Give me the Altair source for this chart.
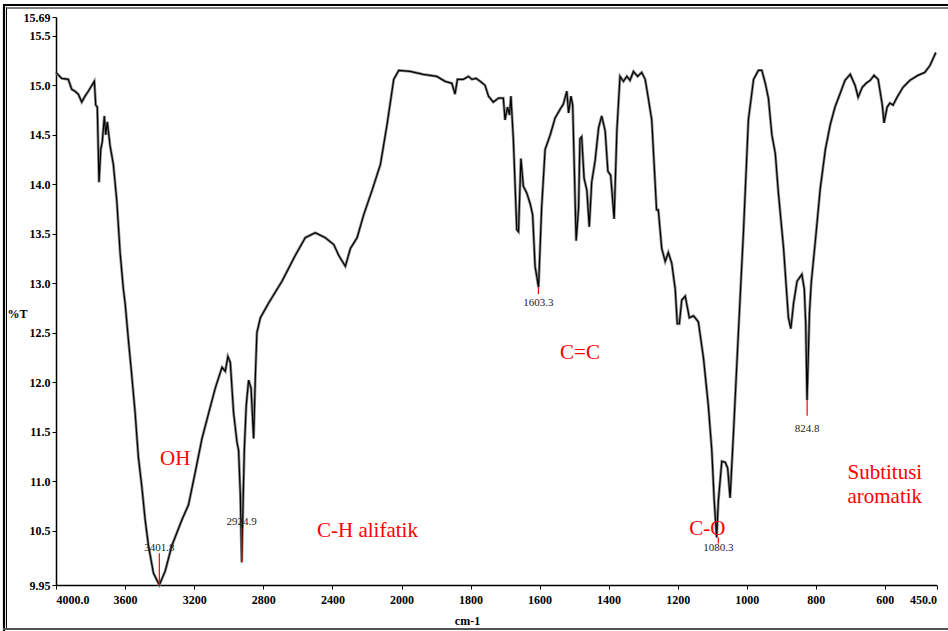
import altair as alt
import pandas as pd

# ---- spectrum (wavenumber cm-1, %T) ----
wavenumber = [
    4000, 3967, 3929, 3909, 3890, 3871, 3851, 3832, 3813, 3778, 3770, 3761, 3751, 3741,
    3732, 3720, 3712, 3703, 3687, 3668, 3648, 3629, 3610, 3600, 3581, 3561, 3542, 3523,
    3503, 3484, 3465, 3436, 3402, 3368, 3329, 3271, 3233, 3194, 3155, 3116, 3078, 3039,
    3020, 3005, 2991, 2972, 2952, 2943, 2933, 2925, 2910, 2899, 2885, 2871, 2856, 2846,
    2837, 2817, 2769, 2692, 2615, 2557, 2499, 2441, 2392, 2363, 2325, 2296, 2257, 2219,
    2170, 2122, 2083, 2045, 2016, 1975, 1937, 1898, 1874, 1854, 1845, 1838, 1821, 1806,
    1796, 1784, 1772, 1758, 1748, 1734, 1719, 1705, 1700, 1693, 1687, 1683, 1676, 1666,
    1661, 1654, 1647, 1637, 1627, 1620, 1613, 1603, 1594, 1584, 1569, 1555, 1540, 1531,
    1521, 1516, 1509, 1504, 1494, 1487, 1483, 1478, 1471, 1463, 1456, 1449, 1439, 1429,
    1420, 1410, 1402, 1394, 1384, 1376, 1367, 1357, 1347, 1338, 1328, 1316, 1304, 1294,
    1285, 1275, 1265, 1261, 1256, 1246, 1236, 1227, 1217, 1207, 1201, 1195, 1188, 1178,
    1166, 1154, 1140, 1125, 1111, 1101, 1094, 1087, 1082, 1072, 1062, 1055, 1048, 1038,
    1024, 1009, 995, 980, 966, 956, 946, 937, 927, 917, 908, 893, 879, 872, 864, 854,
    840, 833, 829, 825, 818, 813, 799, 787, 772, 758, 744, 729, 715, 700, 686, 677, 665,
    654, 642, 631, 619, 607, 602, 593, 585, 576, 564, 547, 527, 504, 484, 469, 452,
]
transmittance = [
    15.13, 15.07, 15.06, 14.96, 14.94, 14.91, 14.83, 14.89, 14.94, 15.04, 14.80, 14.78, 14.02, 14.35,
    14.43, 14.69, 14.50, 14.63, 14.39, 14.20, 13.83, 13.31, 12.94, 12.80, 12.43, 12.06, 11.69, 11.24,
    10.94, 10.61, 10.35, 10.07, 9.95, 10.09, 10.35, 10.61, 10.76, 11.09, 11.43, 11.69, 11.94, 12.15,
    12.11, 12.26, 12.20, 11.69, 11.39, 11.31, 10.87, 10.18, 11.31, 11.76, 12.02, 11.94, 11.43, 12.06,
    12.50, 12.65, 12.80, 13.02, 13.28, 13.46, 13.51, 13.46, 13.39, 13.28, 13.17, 13.35, 13.46, 13.69,
    13.94, 14.20, 14.61, 15.06, 15.15, 15.14, 15.11, 15.09, 15.04, 15.02, 14.91, 15.06, 15.06, 15.09,
    15.06, 15.07, 15.04, 15.00, 14.89, 14.83, 14.87, 14.87, 14.65, 14.78, 14.70, 14.89, 14.46, 13.54,
    13.52, 14.26, 13.98, 13.91, 13.80, 13.69, 13.17, 12.96, 13.76, 14.35, 14.50, 14.67, 14.76, 14.81,
    14.94, 14.72, 14.89, 14.80, 13.43, 13.76, 14.46, 14.48, 14.06, 13.94, 13.57, 14.02, 14.24, 14.57,
    14.69, 14.54, 14.13, 14.09, 13.65, 14.54, 15.09, 15.04, 15.09, 15.05, 15.14, 15.09, 15.13, 15.06,
    14.87, 14.65, 14.00, 13.74, 13.74, 13.35, 13.22, 13.31, 13.20, 12.94, 12.59, 12.59, 12.83, 12.87,
    12.65, 12.67, 12.61, 12.24, 11.76, 11.31, 10.80, 10.43, 10.80, 11.20, 11.19, 11.13, 10.83, 11.50,
    12.50, 13.54, 14.65, 15.06, 15.15, 15.15, 15.02, 14.87, 14.50, 14.31, 13.91, 13.35, 12.65, 12.54, 12.80, 13.02,
    13.09, 12.94, 12.60, 11.82, 12.70, 13.00, 13.50, 13.95, 14.35, 14.60, 14.78, 14.92, 15.05, 15.11, 15.00, 14.88, 14.98,
    15.02, 15.05, 15.10, 15.06, 14.80, 14.62, 14.78, 14.82, 14.80, 14.88, 14.98, 15.05, 15.10, 15.13, 15.20, 15.33,
]

# ---- peak markers ----
peak_wn = [3401.8, 2924.9, 1603.3, 1082.0, 824.8]
peak_T = [9.95, 10.18, 12.96, 10.43, 11.82]
peak_tick_end = [10.27, 10.53, 12.89, 10.37, 11.66]
peak_text = ["3401.8", "2924.9", "1603.3", "1080.3", "824.8"]
peak_label_T = [10.32, 10.59, 12.80, 10.32, 11.53]

# ---- group annotations ----
group_text = ["OH", "C-H alifatik", "C=C", "C-O"]
group_wn = [3310, 2197, 1483, 1114]
group_T = [11.22, 10.50, 12.29, 10.52]
arom_text = ["Subtitusi", "aromatik"]
arom_wn = [708, 708]
arom_T = [11.08, 10.84]

x_ticks = [4000, 3600, 3200, 2800, 2400, 2000, 1800, 1600, 1400, 1200, 1000, 800, 600, 450]
y_ticks = [9.95, 10.5, 11.0, 11.5, 12.0, 12.5, 13.0, 13.5, 14.0, 14.5, 15.0, 15.5, 15.69]

spec = pd.DataFrame({"wn": wavenumber, "T": transmittance})
peaks = pd.DataFrame({"wn": peak_wn, "T": peak_T, "T2": peak_tick_end,
                      "label": peak_text, "TL": peak_label_T})
groups = pd.DataFrame({"wn": group_wn, "T": group_T, "label": group_text})
arom = pd.DataFrame({"wn": arom_wn, "T": arom_T, "label": arom_text})

PW, PH = 880, 568
x_scale = alt.Scale(domain=[4000, 2000, 450], range=[0, 345.5, 880.5], nice=False, zero=False)
y_scale = alt.Scale(domain=[9.95, 15.69], nice=False, zero=False)

SERIF = "Liberation Serif"

x_axis = alt.Axis(
    values=x_ticks,
    labelExpr="datum.value == 4000 ? '4000.0' : datum.value == 450 ? '450.0' : format(datum.value, 'd')",
    labelPadding=5, titleX=411, titleY=35, titleBaseline="middle", titleAlign="center",
)
y_axis = alt.Axis(
    values=y_ticks,
    labelExpr="datum.value == 15.69 ? '15.69' : datum.value == 9.95 ? '9.95' : format(datum.value, '.1f')",
    labelPadding=2, titleAngle=0, titleX=-39, titleY=296, titleAlign="center",
    titleBaseline="middle",
)

base = alt.Chart(spec)
X = alt.X("wn:Q", scale=x_scale, axis=x_axis, title="cm-1")
Y = alt.Y("T:Q", scale=y_scale, axis=y_axis, title="%T")

line_under = base.mark_line(color="#8c8c8c", strokeWidth=2.8).encode(x=X, y=Y)
line_top = base.mark_line(color="#000000", strokeWidth=1.2).encode(x="wn:Q", y="T:Q")

red_ticks = alt.Chart(peaks).mark_rule(color="#ff0000", strokeWidth=1.2).encode(
    x="wn:Q", y="T:Q", y2="T2:Q")
peak_labels = alt.Chart(peaks).mark_text(
    font=SERIF, fontSize=11, color="#222222", baseline="middle", align="center"
).encode(x="wn:Q", y="TL:Q", text="label:N")

group_labels = alt.Chart(groups).mark_text(
    font=SERIF, fontSize=21, color="#ff0000", baseline="middle", align="center"
).encode(x="wn:Q", y="T:Q", text="label:N")
arom_labels = alt.Chart(arom).mark_text(
    font=SERIF, fontSize=21, color="#ff0000", baseline="middle", align="left"
).encode(x="wn:Q", y="T:Q", text="label:N")

# decorative double frame of the original picture
one = alt.Data(values=[{"k": 1}])
frame = [
    alt.Chart(one).mark_rule(color="#000000", strokeWidth=2.2).encode(
        x=alt.value(-52), y=alt.value(-12), y2=alt.value(615)),
    alt.Chart(one).mark_rule(color="#000000", strokeWidth=1.0).encode(
        x=alt.value(-49.5), y=alt.value(-9.5), y2=alt.value(612)),
    alt.Chart(one).mark_rule(color="#000000", strokeWidth=2.2).encode(
        x=alt.value(-53), x2=alt.value(892), y=alt.value(-12)),
    alt.Chart(one).mark_rule(color="#000000", strokeWidth=1.0).encode(
        x=alt.value(-50), x2=alt.value(892), y=alt.value(-9)),
    alt.Chart(one).mark_rule(color="#555555", strokeWidth=2.0).encode(
        x=alt.value(-53), x2=alt.value(892), y=alt.value(612)),
]

chart = alt.layer(
    line_under, line_top, red_ticks, peak_labels, group_labels, arom_labels, *frame
).properties(
    width=PW, height=PH,
    autosize=alt.AutoSizeParams(type="none"),
    padding={"left": 56, "top": 17, "right": 12, "bottom": 46},
    background="#ffffff",
).configure_view(
    stroke=None
).configure_axis(
    grid=False,
    labelFont=SERIF, labelFontSize=12, labelFontWeight="bold", labelColor="#000000",
    titleFont=SERIF, titleFontSize=12, titleFontWeight="bold", titleColor="#000000",
    domainColor="#000000", domainWidth=1.5, tickColor="#000000", tickSize=4, tickWidth=1,
)

chart.save("out.html", embed_options={"renderer": "svg", "actions": False})
